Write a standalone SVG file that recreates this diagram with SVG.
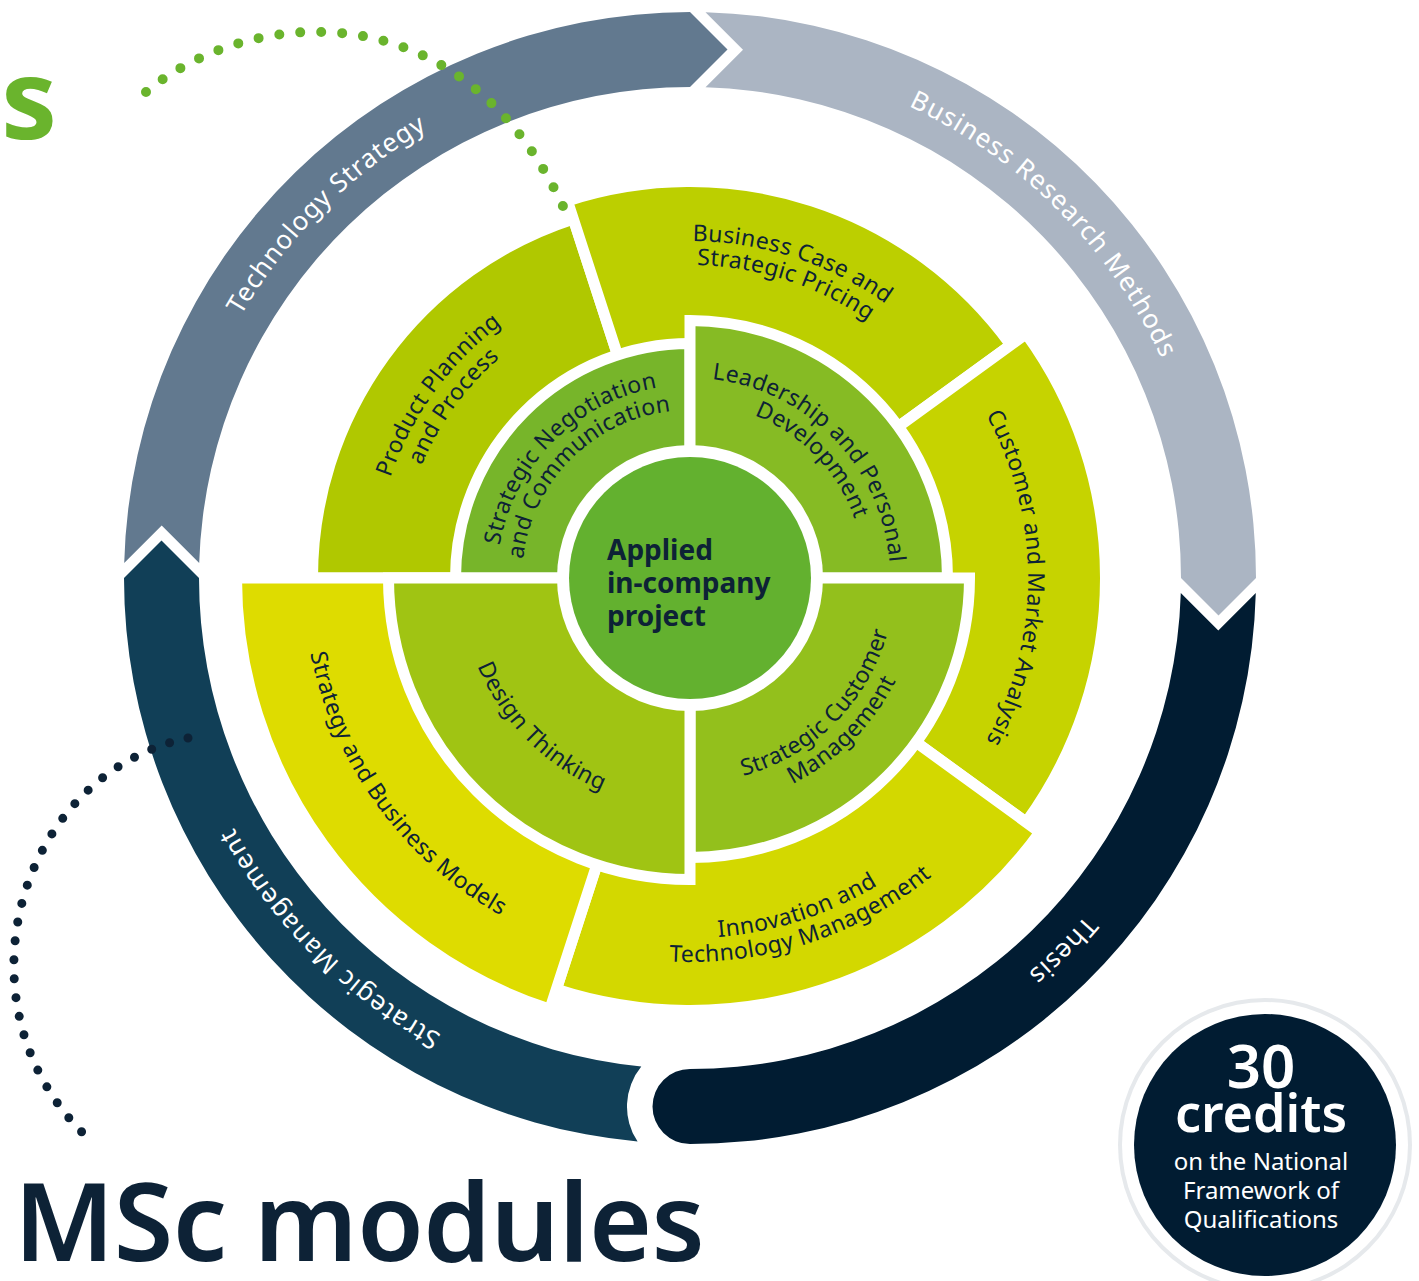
<svg xmlns="http://www.w3.org/2000/svg" width="1419" height="1281" viewBox="0 0 1419 1281">
<style>
  .ringt { font-family: "Noto Sans", "Open Sans", sans-serif; font-size: 26px; fill: #ffffff; letter-spacing: 1px; }
  .segt { font-family: "Noto Sans", "Open Sans", sans-serif; font-size: 23px; fill: #0d2236; letter-spacing: 0.4px; }
  .sep { stroke: #ffffff; stroke-width: 11; stroke-linejoin: miter; }
  .dark { fill: #0d2236; }
</style>
<defs>
  <path id="pTS" d="M264.04,876.26 A520,520 0 0 1 988.26,152.04"/>
  <path id="pBRM" d="M391.74,152.04 A520,520 0 0 1 1115.96,876.26"/>
  <path id="pTH" d="M1115.96,279.74 A520,520 0 0 1 391.74,1003.96"/>
  <path id="pSM" d="M988.26,1003.96 A520,520 0 0 1 264.04,279.74"/>
  <path id="pBC1" d="M392.45,419.79 A337,337 0 0 1 1023.72,624.9"/>
  <path id="pBC2" d="M413.64,431.06 A313,313 0 0 1 999.95,621.56"/>
  <path id="pCMA" d="M748.69,245.13 A338,338 0 0 1 748.69,910.87"/>
  <path id="pITM1" d="M372.14,747.01 A360,360 0 0 0 1046.5,527.9"/>
  <path id="pITM2" d="M350.95,758.28 A384,384 0 0 0 1070.26,524.56"/>
  <path id="pSBM" d="M411.62,309.17 A387,387 0 0 0 859.65,925.83"/>
  <path id="pPP1" d="M462.69,797.51 A316,316 0 0 1 828.52,293.98"/>
  <path id="pPP2" d="M480.67,780.15 A291,291 0 0 1 817.57,316.45"/>
  <path id="pSN1" d="M531.9,688.7 A193,193 0 0 1 800.7,419.9"/>
  <path id="pSN2" d="M552.38,674.36 A168,168 0 0 1 786.36,440.38"/>
  <path id="pLP1" d="M578.16,412.19 A200,200 0 0 1 851.8,695.56"/>
  <path id="pLP2" d="M592.14,432.92 A175,175 0 0 1 831.58,680.86"/>
  <path id="pSC1" d="M572.42,745.93 A205,205 0 0 0 857.93,460.42"/>
  <path id="pSC2" d="M558.08,766.4 A230,230 0 0 0 878.4,446.08"/>
  <path id="pDT" d="M501.6,446.08 A230,230 0 0 0 821.92,766.4"/>
</defs>
<rect x="0" y="0" width="1419" height="1281" fill="#ffffff"/>

<!-- outer ring -->
<g id="technology-strategy">
  <path d="M124.2,563 L161.7,525.5 L199.2,563 A491,491 0 0 1 690,87 L727.5,49.5 L690,12 A566,566 0 0 0 124.2,563 Z" fill="#62798f"/>
  <text class="ringt"><textPath href="#pTS" startOffset="50%" text-anchor="middle">Technology Strategy</textPath></text>
</g>
<g id="business-research-methods">
  <path d="M705.5,12.2 A566,566 0 0 1 1256,578 L1218.5,615.5 L1181,578 A491,491 0 0 0 705.5,87.2 L743,49.7 Z" fill="#abb5c3"/>
  <text class="ringt"><textPath href="#pBRM" startOffset="50%" text-anchor="middle">Business Research Methods</textPath></text>
</g>
<g id="strategic-management">
  <path d="M637.6,1141.6 A566,566 0 0 1 124,578 L161.5,540.5 L199,578 A491,491 0 0 0 641.3,1066.6 A63,63 0 0 0 637.6,1141.6 Z" fill="#113f57"/>
  <text class="ringt"><textPath href="#pSM" startOffset="50%" text-anchor="middle">Strategic Management</textPath></text>
</g>
<g id="thesis">
  <path d="M1255.8,593 A566,566 0 0 1 690,1144 A37.5,37.5 0 0 1 690,1069 A491,491 0 0 0 1180.8,593 L1218.3,630.5 Z" fill="#011c32"/>
  <text class="ringt"><textPath href="#pTH" startOffset="50%" text-anchor="middle">Thesis</textPath></text>
</g>

<!-- outer segments -->
<g id="product-planning">
  <path class="sep" d="M690,578 L312.5,578 A377.5,377.5 0 0 1 573.35,218.98 Z" fill="#b0c800"/>
</g>
<g id="business-case">
  <path class="sep" d="M690,578 L567.47,200.9 A396.5,396.5 0 0 1 1010.78,344.94 Z" fill="#bccf00"/>
</g>
<g id="customer-market">
  <path class="sep" d="M690,578 L1026.15,333.77 A415.5,415.5 0 0 1 1026.15,822.23 Z" fill="#c6d300"/>
</g>
<g id="innovation-technology">
  <path class="sep" d="M690,578 L1039.9,832.22 A432.5,432.5 0 0 1 556.35,989.33 Z" fill="#d3d800"/>
</g>
<g id="strategy-business-models">
  <path class="sep" d="M690,578 L549.86,1009.31 A453.5,453.5 0 0 1 236.5,578 Z" fill="#dedc00"/>
</g>

<!-- inner quadrants -->
<g id="strategic-negotiation">
  <path class="sep" d="M690,578 L455.5,578 A234.5,234.5 0 0 1 690,343.5 Z" fill="#77b52a"/>
</g>
<g id="leadership">
  <path class="sep" d="M690,578 L690,320.5 A257.5,257.5 0 0 1 947.5,578 Z" fill="#86bb24"/>
</g>
<g id="strategic-customer">
  <path class="sep" d="M690,578 L969.5,578 A279.5,279.5 0 0 1 690,857.5 Z" fill="#93c01c"/>
</g>
<g id="design-thinking">
  <path class="sep" d="M690,578 L690,879.5 A301.5,301.5 0 0 1 388.5,578 Z" fill="#a0c413"/>
</g>

<!-- centre -->
<g id="applied-project">
  <circle cx="690" cy="578" r="133" fill="#ffffff"/>
  <circle cx="690" cy="578" r="121" fill="#63b12f"/>
  <text font-family="Noto Sans, Open Sans, sans-serif" font-size="28" font-weight="700" class="dark">
    <tspan x="607" y="560">Applied</tspan>
    <tspan x="607" y="593">in-company</tspan>
    <tspan x="607" y="626">project</tspan>
  </text>
</g>

<!-- segment labels -->
<g id="labels">
  <text class="segt"><textPath href="#pPP1" startOffset="50%" text-anchor="middle">Product Planning</textPath></text>
  <text class="segt"><textPath href="#pPP2" startOffset="50%" text-anchor="middle">and Process</textPath></text>
  <text class="segt"><textPath href="#pBC1" startOffset="50%" text-anchor="middle">Business Case and</textPath></text>
  <text class="segt"><textPath href="#pBC2" startOffset="50%" text-anchor="middle">Strategic Pricing</textPath></text>
  <text class="segt"><textPath href="#pCMA" startOffset="50%" text-anchor="middle">Customer and Market Analysis</textPath></text>
  <text class="segt"><textPath href="#pITM1" startOffset="50%" text-anchor="middle">Innovation and</textPath></text>
  <text class="segt"><textPath href="#pITM2" startOffset="50%" text-anchor="middle">Technology Management</textPath></text>
  <text class="segt"><textPath href="#pSBM" startOffset="50%" text-anchor="middle">Strategy and Business Models</textPath></text>
  <text class="segt"><textPath href="#pSN1" startOffset="50%" text-anchor="middle">Strategic Negotiation</textPath></text>
  <text class="segt"><textPath href="#pSN2" startOffset="50%" text-anchor="middle">and Communication</textPath></text>
  <text class="segt"><textPath href="#pLP1" startOffset="50%" text-anchor="middle">Leadership and Personal</textPath></text>
  <text class="segt"><textPath href="#pLP2" startOffset="50%" text-anchor="middle">Development</textPath></text>
  <text class="segt"><textPath href="#pSC1" startOffset="50%" text-anchor="middle">Strategic Customer</textPath></text>
  <text class="segt"><textPath href="#pSC2" startOffset="50%" text-anchor="middle">Management</textPath></text>
  <text class="segt"><textPath href="#pDT" startOffset="50%" text-anchor="middle">Design Thinking</textPath></text>
</g>

<!-- dotted connectors -->
<g id="connectors" fill="none" stroke-linecap="round">
  <path d="M146,92 C250,5 470,-15 570,222" stroke="#6ab42d" stroke-width="10" stroke-dasharray="0 21"/>
  <path d="M188,738 C15,775 -50,1010 90,1140" stroke="#0d2236" stroke-width="9" stroke-dasharray="0 19"/>
</g>

<g id="title">
  <text x="1" y="139" font-family="Noto Sans, Open Sans, sans-serif" font-size="112" font-weight="700" fill="#6ab42d">s</text>
  <text x="14" y="1261" font-family="Noto Sans, Open Sans, sans-serif" font-size="108" font-weight="600" letter-spacing="-0.5" class="dark">MSc modules</text>
</g>

<g id="credits-badge">
  <circle cx="1265" cy="1145" r="147" fill="#e6e9ec"/>
  <circle cx="1265" cy="1145" r="143" fill="#ffffff"/>
  <circle cx="1265" cy="1145" r="131" fill="#011c32"/>
  <g font-family="Noto Sans, Open Sans, sans-serif" fill="#ffffff" text-anchor="middle">
    <text x="1261" y="1088" font-size="60" font-weight="600">30</text>
    <text x="1261" y="1132" font-size="52" font-weight="600">credits</text>
    <text x="1261" y="1170" font-size="24">on the National</text>
    <text x="1261" y="1199" font-size="24">Framework of</text>
    <text x="1261" y="1228" font-size="24">Qualifications</text>
  </g>
</g>
</svg>
